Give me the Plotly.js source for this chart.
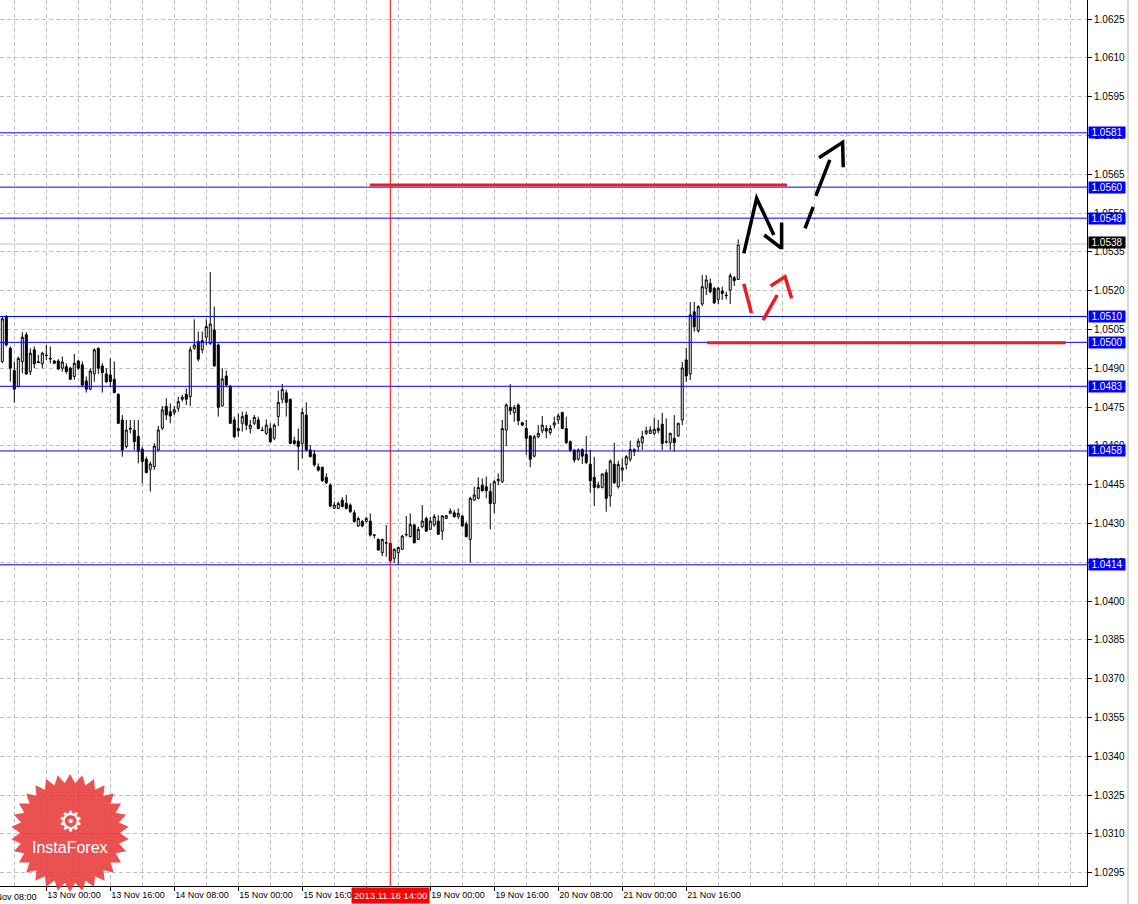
<!DOCTYPE html>
<html><head><meta charset="utf-8">
<script src="https://cdn.plot.ly/plotly-3.0.1.min.js"></script>
<style>html,body{margin:0;padding:0;background:#fff;overflow:hidden}#chart{width:1138px;height:904px}</style>
</head><body><div id="chart"></div>
<script>
// ---- data (EURUSD H1) ----
const openP = [1.04926,1.05097,1.04977,1.04891,1.04829,1.04926,1.05029,1.04887,1.04971,1.04925,
1.04917,1.04951,1.04938,1.04928,1.04928,1.04900,1.04906,1.04900,1.04868,1.04928,
1.04913,1.04851,1.04819,1.04878,1.04977,1.04909,1.04878,1.04874,1.04857,1.04799,
1.04700,1.04597,1.04668,1.04661,1.04636,1.04587,1.04548,1.04509,1.04520,1.04584,
1.04668,1.04752,1.04732,1.04728,1.04745,1.04780,1.04799,1.04790,1.04977,1.05003,
1.04971,1.05020,1.04996,1.05048,1.04990,1.04754,1.04870,1.04831,1.04700,1.04658,
1.04687,1.04719,1.04667,1.04687,1.04700,1.04661,1.04648,1.04667,1.04629,1.04713,
1.04780,1.04805,1.04780,1.04620,1.04618,1.04609,1.04719,1.04584,1.04568,1.04519,
1.04517,1.04478,1.04448,1.04358,1.04358,1.04390,1.04377,1.04371,1.04341,1.04290,
1.04307,1.04307,1.04309,1.04256,1.04238,1.04187,1.04226,1.04223,1.04165,1.04187,
1.04200,1.04258,1.04249,1.04294,1.04238,1.04287,1.04319,1.04277,1.04294,1.04309,
1.04270,1.04319,1.04339,1.04341,1.04326,1.04329,1.04298,1.04238,1.04390,1.04397,
1.04448,1.04442,1.04423,1.04377,1.04465,1.04461,1.04661,1.04749,1.04728,1.04758,
1.04689,1.04667,1.04638,1.04560,1.04635,1.04658,1.04667,1.04651,1.04680,1.04700,
1.04729,1.04667,1.04616,1.04584,1.04548,1.04586,1.04567,1.04529,1.04478,1.04439,
1.04439,1.04496,1.04406,1.04529,1.04442,1.04506,1.04528,1.04548,1.04577,1.04597,
1.04612,1.04648,1.04648,1.04648,1.04658,1.04684,1.04617,1.04612,1.04629,1.04638,
1.04700,1.04932,1.04878,1.05118,1.05045,1.05148,1.05209,1.05228,1.05209,1.05166,
1.05198,1.05183,1.05202,1.05250,1.05243];
const highP = [1.05100,1.05106,1.04984,1.04926,1.04945,1.05039,1.05039,1.04977,1.04984,1.04951,
1.04964,1.04990,1.04984,1.04932,1.04935,1.04945,1.04919,1.04906,1.04955,1.04932,
1.04926,1.04868,1.04900,1.04977,1.04980,1.04919,1.04900,1.04938,1.04926,1.04803,
1.04719,1.04700,1.04700,1.04700,1.04700,1.04597,1.04558,1.04539,1.04610,1.04677,
1.04754,1.04784,1.04764,1.04754,1.04790,1.04797,1.04822,1.04984,1.05089,1.05042,
1.05042,1.05089,1.05272,1.05138,1.04996,1.04900,1.04891,1.04835,1.04713,1.04725,
1.04732,1.04732,1.04700,1.04719,1.04713,1.04674,1.04702,1.04687,1.04687,1.04813,
1.04839,1.04818,1.04783,1.04635,1.04667,1.04745,1.04768,1.04603,1.04584,1.04532,
1.04519,1.04493,1.04455,1.04384,1.04384,1.04401,1.04410,1.04377,1.04352,1.04326,
1.04313,1.04326,1.04339,1.04259,1.04242,1.04242,1.04294,1.04225,1.04203,1.04210,
1.04255,1.04329,1.04339,1.04298,1.04287,1.04371,1.04326,1.04326,1.04336,1.04332,
1.04332,1.04332,1.04358,1.04352,1.04358,1.04332,1.04307,1.04403,1.04442,1.04478,
1.04474,1.04481,1.04455,1.04468,1.04493,1.04700,1.04764,1.04839,1.04758,1.04764,
1.04693,1.04700,1.04642,1.04642,1.04680,1.04715,1.04680,1.04680,1.04713,1.04725,
1.04732,1.04713,1.04620,1.04586,1.04590,1.04590,1.04638,1.04584,1.04558,1.04461,
1.04493,1.04509,1.04548,1.04612,1.04542,1.04551,1.04564,1.04620,1.04590,1.04629,
1.04658,1.04674,1.04676,1.04709,1.04700,1.04728,1.04706,1.04651,1.04719,1.04689,
1.04924,1.04978,1.05156,1.05157,1.05144,1.05260,1.05260,1.05247,1.05215,1.05215,
1.05215,1.05196,1.05267,1.05256,1.05398];
const lowP = [1.04919,1.04984,1.04848,1.04767,1.04826,1.04880,1.04874,1.04874,1.04900,1.04919,
1.04900,1.04932,1.04919,1.04917,1.04893,1.04887,1.04878,1.04855,1.04855,1.04893,
1.04826,1.04806,1.04816,1.04848,1.04878,1.04806,1.04842,1.04829,1.04803,1.04684,
1.04558,1.04590,1.04648,1.04584,1.04532,1.04455,1.04494,1.04423,1.04507,1.04578,
1.04661,1.04700,1.04687,1.04719,1.04732,1.04771,1.04758,1.04754,1.04971,1.04926,
1.04958,1.04990,1.04990,1.04906,1.04713,1.04752,1.04826,1.04684,1.04629,1.04635,
1.04655,1.04661,1.04648,1.04680,1.04664,1.04658,1.04642,1.04612,1.04622,1.04676,
1.04764,1.04713,1.04607,1.04603,1.04506,1.04551,1.04581,1.04555,1.04519,1.04500,
1.04461,1.04452,1.04362,1.04357,1.04356,1.04362,1.04354,1.04341,1.04303,1.04287,
1.04285,1.04303,1.04249,1.04242,1.04194,1.04174,1.04171,1.04148,1.04148,1.04139,
1.04197,1.04249,1.04246,1.04223,1.04236,1.04281,1.04268,1.04274,1.04287,1.04255,
1.04236,1.04318,1.04336,1.04323,1.04316,1.04287,1.04246,1.04148,1.04388,1.04393,
1.04423,1.04397,1.04277,1.04339,1.04448,1.04457,1.04599,1.04719,1.04693,1.04680,
1.04676,1.04564,1.04517,1.04555,1.04629,1.04648,1.04629,1.04642,1.04667,1.04684,
1.04664,1.04607,1.04577,1.04535,1.04542,1.04529,1.04529,1.04419,1.04367,1.04435,
1.04435,1.04345,1.04365,1.04452,1.04435,1.04461,1.04509,1.04539,1.04560,1.04577,
1.04584,1.04642,1.04646,1.04642,1.04648,1.04584,1.04609,1.04584,1.04577,1.04635,
1.04680,1.04847,1.04854,1.05041,1.05037,1.05140,1.05183,1.05189,1.05148,1.05148,
1.05164,1.05166,1.05148,1.05218,1.05241];
const closeP = [1.05091,1.04990,1.04900,1.04819,1.04938,1.05020,1.04878,1.04958,1.04917,1.04922,
1.04958,1.04949,1.04936,1.04919,1.04897,1.04924,1.04887,1.04857,1.04919,1.04900,
1.04835,1.04819,1.04889,1.04971,1.04900,1.04883,1.04848,1.04848,1.04806,1.04687,
1.04584,1.04661,1.04665,1.04616,1.04578,1.04539,1.04496,1.04530,1.04599,1.04661,
1.04739,1.04719,1.04715,1.04739,1.04771,1.04788,1.04780,1.04971,1.04990,1.04935,
1.05007,1.05061,1.05071,1.04909,1.04749,1.04859,1.04835,1.04687,1.04635,1.04667,
1.04713,1.04680,1.04680,1.04710,1.04667,1.04659,1.04680,1.04616,1.04680,1.04768,
1.04818,1.04768,1.04609,1.04609,1.04597,1.04729,1.04584,1.04558,1.04526,1.04506,
1.04465,1.04457,1.04367,1.04371,1.04377,1.04365,1.04358,1.04345,1.04307,1.04319,
1.04290,1.04319,1.04255,1.04254,1.04197,1.04238,1.04224,1.04156,1.04200,1.04207,
1.04251,1.04256,1.04296,1.04225,1.04277,1.04309,1.04270,1.04309,1.04326,1.04258,
1.04329,1.04330,1.04348,1.04326,1.04339,1.04290,1.04249,1.04397,1.04410,1.04439,
1.04426,1.04426,1.04377,1.04461,1.04470,1.04667,1.04758,1.04736,1.04749,1.04697,
1.04680,1.04629,1.04548,1.04635,1.04648,1.04680,1.04657,1.04667,1.04689,1.04716,
1.04667,1.04612,1.04584,1.04545,1.04584,1.04560,1.04535,1.04465,1.04439,1.04448,
1.04491,1.04397,1.04541,1.04457,1.04528,1.04515,1.04558,1.04586,1.04586,1.04618,
1.04635,1.04658,1.04661,1.04664,1.04667,1.04609,1.04615,1.04648,1.04612,1.04687,
1.04901,1.04870,1.05106,1.05060,1.05138,1.05215,1.05241,1.05196,1.05153,1.05209,
1.05189,1.05181,1.05258,1.05238,1.05379];

const tickBars = [11,27,43,59,75,91,107,123,139,155,171];
const tickLabels = ['13 Nov 00:00','13 Nov 16:00','14 Nov 08:00','15 Nov 00:00','15 Nov 16:00','18 Nov 08:00','19 Nov 00:00','19 Nov 16:00','20 Nov 08:00','21 Nov 00:00','21 Nov 16:00'];
const edgeBar = -5, edgeLabel = '12 Nov 08:00';
const levels = [1.0581,1.0560,1.0548,1.0510,1.0500,1.0483,1.0458,1.0414];
const bidPrice = 1.0538;
const markerBar = 97, markerLabel = '2013.11.18 14:00';
// hand-drawn forecast marks (bar index, price)
const redBars = [{x0:91.9,x1:196.2,y:1.05608},{x0:176.2,x1:265.9,y:1.04998}];
const blackStrokes = [
  [[185.4,1.05344],[188.6,1.05557],[192.9,1.05415]],
  [[190.5,1.05415],[194.55,1.05367],[194.85,1.05367],[194.85,1.05463]],
  [[200.7,1.05441],[202.75,1.05524]],
  [[203.4,1.05566],[206.9,1.05705]],
  [[204.2,1.05714],[210.1,1.05773],[210.25,1.05677]]
];
const redStrokes = [
  [[185.4,1.05226],[187.3,1.05113]],
  [[190.2,1.05086],[193.75,1.05183]],
  [[192.1,1.05218],[195.7,1.05254],[197.35,1.05170]]
];

// ---- layout constants ----
const X0 = -0.575, X1 = 271.2, Y0 = 1.028982, Y1 = 1.063235;
const PW = 1087, PH = 886;
const FONT = 'Liberation Sans, Arial, sans-serif';

const idx = openP.map((_, i) => i);
const trace = {
  type:'candlestick', x: idx, open: openP, high: highP, low: lowP, close: closeP,
  increasing:{line:{color:'#000',width:1}, fillcolor:'#fff'},
  decreasing:{line:{color:'#000',width:1}, fillcolor:'#000'},
  whiskerwidth:0, hoverinfo:'skip', showlegend:false
};

function pathOf(pts){ return pts.map((p,i)=>(i?'L':'M')+p[0]+','+p[1]).join(' '); }

const shapes = [];
levels.forEach(v => shapes.push({type:'line', xref:'paper', x0:0, x1:1, yref:'y', y0:v, y1:v, line:{color:'#0000ff', width:1}}));
shapes.push({type:'line', xref:'paper', x0:0, x1:1, yref:'y', y0:bidPrice, y1:bidPrice, line:{color:'#c0c0c0', width:1}});
shapes.push({type:'line', xref:'x', x0:markerBar, x1:markerBar, yref:'paper', y0:0, y1:1, line:{color:'#ff0000', width:1}});
redBars.forEach(r => shapes.push({type:'line', xref:'x', yref:'y', x0:r.x0, x1:r.x1, y0:r.y, y1:r.y, line:{color:'#ec1c24', width:3}}));
blackStrokes.forEach(s => shapes.push({type:'path', xref:'x', yref:'y', path:pathOf(s), line:{color:'#000', width:3.5}}));
redStrokes.forEach(s => shapes.push({type:'path', xref:'x', yref:'y', path:pathOf(s), line:{color:'#ec1c24', width:3.5}}));
shapes.push({type:'line', xref:'paper', yref:'paper', x0:1128/PW, x1:1128/PW, y0:-18/PH, y1:1, line:{color:'#d8d8d8', width:2}});

// logo starburst
(function(){
  const cx = 70, cy = 833, ro = 59, ri = 50, n = 30, pts = [];
  for (let k = 0; k < 2*n; k++) {
    const a = Math.PI * k / n - Math.PI/2;
    const r = (k % 2 === 0) ? ro : ri;
    pts.push([(cx + r*Math.cos(a))/PW, (PH - (cy + r*Math.sin(a)))/PH]);
  }
  shapes.push({type:'path', xref:'paper', yref:'paper', path:pathOf(pts)+' Z', fillcolor:'rgba(232,52,52,0.86)', line:{width:0}, layer:'above'});
})();

const annotations = [];
const lblFont = {family:FONT, size:10, color:'#fff'};
levels.forEach(v => annotations.push({xref:'paper', x:1, xanchor:'left', xshift:1, yref:'y', y:v, yanchor:'middle',
  text:v.toFixed(4), showarrow:false, bgcolor:'#0000ff', font:lblFont, borderpad:0, width:36, height:11}));
annotations.push({xref:'paper', x:1, xanchor:'left', xshift:1, yref:'y', y:bidPrice, yanchor:'middle', yshift:2,
  text:bidPrice.toFixed(4), showarrow:false, bgcolor:'#000', font:lblFont, borderpad:0, width:36, height:11});
annotations.push({xref:'x', x:markerBar, xanchor:'center', yref:'paper', y:0, yanchor:'top', yshift:-1,
  text:markerLabel, showarrow:false, bgcolor:'#ff0000', font:{family:FONT, size:9.5, color:'#fff'}, borderpad:2});
annotations.push({xref:'paper', x:(edgeBar - X0)/(X1 - X0), xanchor:'left', xshift:-1, yref:'paper', y:0, yanchor:'top', yshift:-4,
  text:edgeLabel, showarrow:false, font:{family:FONT, size:9, color:'#000'}});
annotations.push({xref:'paper', x:70/PW, xanchor:'center', yref:'paper', y:(PH-821)/PH, yanchor:'middle',
  text:'\u2699', showarrow:false, font:{family:'DejaVu Sans', size:28, color:'#fff'}});
annotations.push({xref:'paper', x:70/PW, xanchor:'center', yref:'paper', y:(PH-847)/PH, yanchor:'middle',
  text:'InstaForex', showarrow:false, font:{family:FONT, size:16, color:'#fff'}});

const grid = {gridcolor:'#c0c0c0', griddash:'4px,3px', gridwidth:1};
const layout = {
  width:1138, height:904,
  margin:{l:0, r:51, t:0, b:18, pad:0},
  paper_bgcolor:'#fff', plot_bgcolor:'#fff',
  showlegend:false, hovermode:false, dragmode:false,
  boxgap:0.5, boxgroupgap:0,
  font:{family:FONT, size:9, color:'#000'},
  xaxis:Object.assign({
    type:'linear', range:[X0,X1], rangeslider:{visible:false},
    tickmode:'array', tickvals:tickBars, ticktext:tickLabels, tickangle:0,
    ticklabelposition:'outside right', ticks:'outside', ticklen:4, tickcolor:'#000',
    tickfont:{family:FONT, size:9, color:'#000'},
    showgrid:true,
    minor:Object.assign({tickmode:'linear', tick0:3, dtick:8, showgrid:true, ticks:''}, grid),
    showline:true, linecolor:'#000', linewidth:1, zeroline:false, fixedrange:true
  }, grid),
  yaxis:Object.assign({
    type:'linear', range:[Y0,Y1], side:'right',
    tickmode:'linear', tick0:1.0295, dtick:0.0015, tickformat:'.4f',
    ticks:'outside', ticklen:4, tickcolor:'#000',
    tickfont:{family:FONT, size:10, color:'#000'},
    showgrid:true, showline:true, linecolor:'#000', linewidth:1, zeroline:false, fixedrange:true
  }, grid),
  shapes:shapes, annotations:annotations
};

Plotly.newPlot('chart', [trace], layout, {staticPlot:true, displayModeBar:false});
</script>
</body></html>
